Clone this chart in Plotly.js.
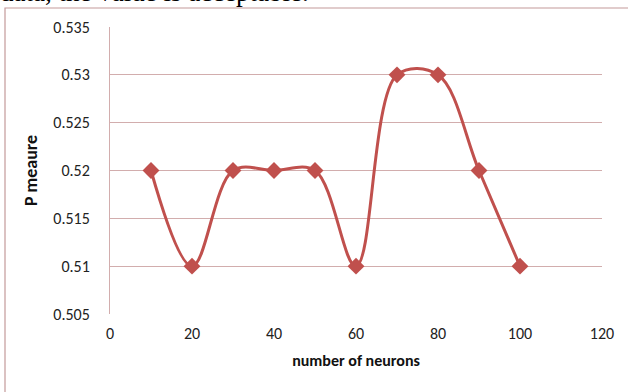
<!DOCTYPE html>
<html><head><meta charset="utf-8">
<script src="https://cdn.plot.ly/plotly-3.0.1.min.js"></script>
<style>html,body{margin:0;padding:0;background:#fff}#c{width:628px;height:392px}</style>
</head><body><div id="c"></div>
<script>
const neurons = [10, 20, 30, 40, 50, 60, 70, 80, 90, 100];
const pMeasure = [0.52, 0.51, 0.52, 0.52, 0.52, 0.51, 0.53, 0.53, 0.52, 0.51];
const xTicks = [0, 20, 40, 60, 80, 100, 120];
const yTicks = [0.505, 0.51, 0.515, 0.52, 0.525, 0.53, 0.535];
const yTickText = ['0.505', '0.51', '0.515', '0.52', '0.525', '0.53', '0.535'];

const font = "Carlito, 'Open Sans', 'Liberation Sans', sans-serif";
const grid = '#d2adad';
const W = 492, H = 287;

Plotly.newPlot('c', [{
  x: neurons, y: pMeasure, type: 'scatter', mode: 'lines+markers',
  line: {shape: 'spline', smoothing: 1, color: '#c0504d', width: 3},
  marker: {symbol: 'diamond', size: 13, color: '#c0504d'},
  cliponaxis: false, showlegend: false
}], {
  width: 628, height: 392,
  margin: {l: 110, r: 26, t: 27, b: 78},
  paper_bgcolor: '#fff', plot_bgcolor: '#fff',
  font: {family: font, size: 16, color: '#222'},
  xaxis: {
    range: [0, 120], tickvals: xTicks, showgrid: false, zeroline: false,
    showline: false, ticks: '', ticklabelstandoff: 8,
    title: {text: '<b>number of neurons</b>', font: {size: 16, color: '#111'}, standoff: 12}
  },
  yaxis: {
    range: [0.505, 0.535], tickvals: yTicks, ticktext: yTickText,
    showgrid: true, gridcolor: grid, gridwidth: 1, zeroline: false,
    showline: true, linecolor: grid, ticks: '', ticklabelstandoff: 16,
    title: {text: '<b>P meaure</b>', font: {size: 18, color: '#111'}, standoff: 11}
  },
  shapes: [{
    type: 'rect', xref: 'paper', yref: 'paper',
    x0: -105/W, x1: 540/W, y0: -100/H, y1: 1 + 19/H,
    line: {color: '#c49a9a', width: 1.2}, fillcolor: 'rgba(0,0,0,0)', layer: 'below'
  }],
  annotations: [{
    xref: 'paper', yref: 'paper', x: -112/W, y: 1 + 18/H,
    xanchor: 'left', yanchor: 'bottom', showarrow: false,
    text: 'data, the value is acceptable.',
    font: {family: "'Liberation Serif', 'Times New Roman', serif", size: 27, color: '#000'}
  }]
}, {displayModeBar: false, staticPlot: true});
</script></body></html>
